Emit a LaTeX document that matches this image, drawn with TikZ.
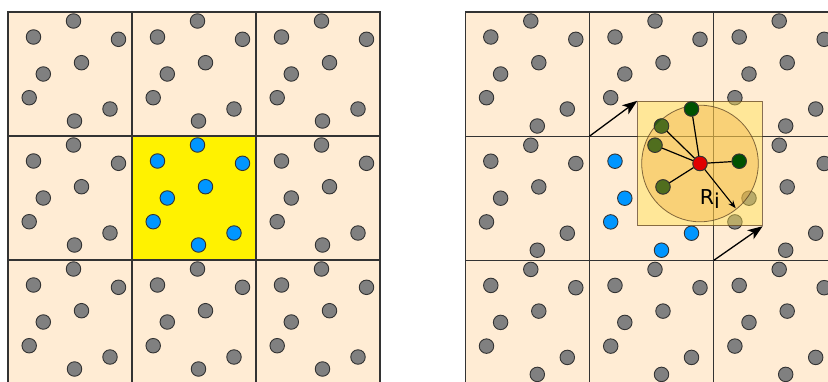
\documentclass[tikz,border=0pt]{standalone}
\usepackage{fontspec}
\newfontfamily\labelfont{DejaVu Sans}
\usetikzlibrary{arrows.meta}
\definecolor{cellbg}{HTML}{FFECD4}
\definecolor{pgray}{HTML}{808080}
\definecolor{pblue}{HTML}{0096FF}
\definecolor{pdkgreen}{HTML}{005200}
\definecolor{pdkgreen2}{HTML}{2D5A14}
\definecolor{polive}{HTML}{506E1E}
\definecolor{pred}{HTML}{E00000}
\definecolor{sqfill}{HTML}{FFE150}
\definecolor{circfill}{HTML}{F0AA3C}
\definecolor{gridline}{HTML}{333333}
\definecolor{pline}{HTML}{333333}
\begin{document}
\begin{tikzpicture}[x=1pt,y=-1pt,
  particle/.style={circle, draw=pline, line width=0.9pt, minimum size=14.5pt, inner sep=0pt},
  gridbox/.style={draw=gridline, line width=1.3pt},
  bigarrow/.style={-{Stealth[length=15pt,width=11pt,inset=4pt]}, line width=1.3pt, black},
  bondline/.style={black, line width=1.2pt},
  radarrow/.style={-{Stealth[length=8pt,width=6pt]}, line width=1.1pt, black}]
\clip (0,0) rectangle (828,381);
\def\plistL{65.5/9, 25.5/25, 110.5/27.3, 73.5/50.7, 35.3/62, 21.2/85.7, 102/97, 66.5/109}
\def\plistR{65.5/9, 25.5/25, 110.5/27.3, 73.5/50.7, 35.3/62, 21.2/85.7, 102/97, 72/114}
% ---------------- left grid ----------------
\foreach \i in {0,1,2}{
  \foreach \j in {0,1,2}{
    \pgfmathtruncatemacro{\isc}{and(\i==1,\j==1)}
    \ifnum\isc=1 \def\cf{yellow}\def\pf{pblue}\else\def\cf{cellbg}\def\pf{pgray}\fi
    \fill[\cf] (8+124*\i, 12+124*\j) rectangle ++(124,124);
  }
}
\foreach \i in {0,1,2}{
  \foreach \j in {0,1,2}{
    \draw[gridbox] (8+124*\i, 12+124*\j) rectangle ++(124,124);
  }
}
\foreach \i in {0,1,2}{
  \foreach \j in {0,1,2}{
    \pgfmathtruncatemacro{\isc}{and(\i==1,\j==1)}
    \ifnum\isc=1 \def\pf{pblue}\else\def\pf{pgray}\fi
    \foreach \px/\py [count=\k] in \plistL {
      \node[particle, fill=\pf] (L-\i-\j-\k) at (8+124*\i+\px, 12+124*\j+\py) {};
    }
  }
}
% ---------------- right grid ----------------
\foreach \i in {0,1,2}{
  \foreach \j in {0,1,2}{
    \fill[cellbg] (465.3+124.2*\i, 12+124.2*\j) rectangle ++(124.2,124.2);
  }
}
\foreach \i in {0,1,2}{
  \foreach \j in {0,1,2}{
    \draw[gridbox] (465.3+124.2*\i, 12+124.2*\j) rectangle ++(124.2,124.2);
  }
}
\foreach \i in {0,1,2}{
  \foreach \j in {0,1,2}{
    \pgfmathtruncatemacro{\isc}{and(\i==1,\j==1)}
    \ifnum\isc=1 \def\pf{pblue}\else\def\pf{pgray}\fi
    \foreach \px/\py [count=\k] in \plistR {
      \node[particle, fill=\pf] (R-\i-\j-\k) at (465.3+124.2*\i+\px, 12+124.2*\j+\py) {};
    }
  }
}
% ---------------- overlays ----------------
\coordinate (rc) at (R-1-1-3.center);
\node[draw=black!55!brown, draw opacity=0.7, line width=0.8pt, fill=sqfill, fill opacity=0.45,
      minimum size=124.6pt, inner sep=0pt] (sq) at (rc) {};
\node[circle, draw=black!60!brown, draw opacity=0.7, line width=0.8pt, fill=circfill, fill opacity=0.35,
      minimum size=116.6pt, inner sep=0pt] (cut) at (rc) {};
% ---------------- neighbours ----------------
\node[particle, fill=pred] (ri) at (rc) {};
\node[particle, fill=pdkgreen] (n1) at (R-1-0-7.center) {};
\node[particle, fill=pdkgreen2] (n2) at (R-1-0-8.center) {};
\begin{scope}
  \clip (cut.center) circle (58.3);
  \fill[polive] (n2.center) circle (6.8);
\end{scope}
\node[particle, fill=polive] (n3) at (R-1-1-1.center) {};
\node[particle, fill=polive] (n4) at (R-1-1-4.center) {};
\node[particle, fill=pdkgreen] (n5) at (R-2-1-2.center) {};
\foreach \n in {n1,n2,n3,n4,n5}{
  \draw[bondline] (ri) -- (\n);
}
\coordinate (rtip) at (735.7,208.3);
\draw[radarrow] (ri) -- (rtip);
\node[anchor=base west, inner sep=0pt, font=\labelfont\fontsize{20.5}{20.5}\selectfont] (rlabel)
  at (699.7,204) {R\raisebox{-4.6pt}{i}};
% ---------------- shift arrows ----------------
\coordinate (c1) at (589.5,136.2);
\coordinate (c2) at (713.7,260.4);
\draw[bigarrow] (c1) -- (sq.north west);
\draw[bigarrow] (c2) -- (sq.south east);
\end{tikzpicture}
\end{document}
